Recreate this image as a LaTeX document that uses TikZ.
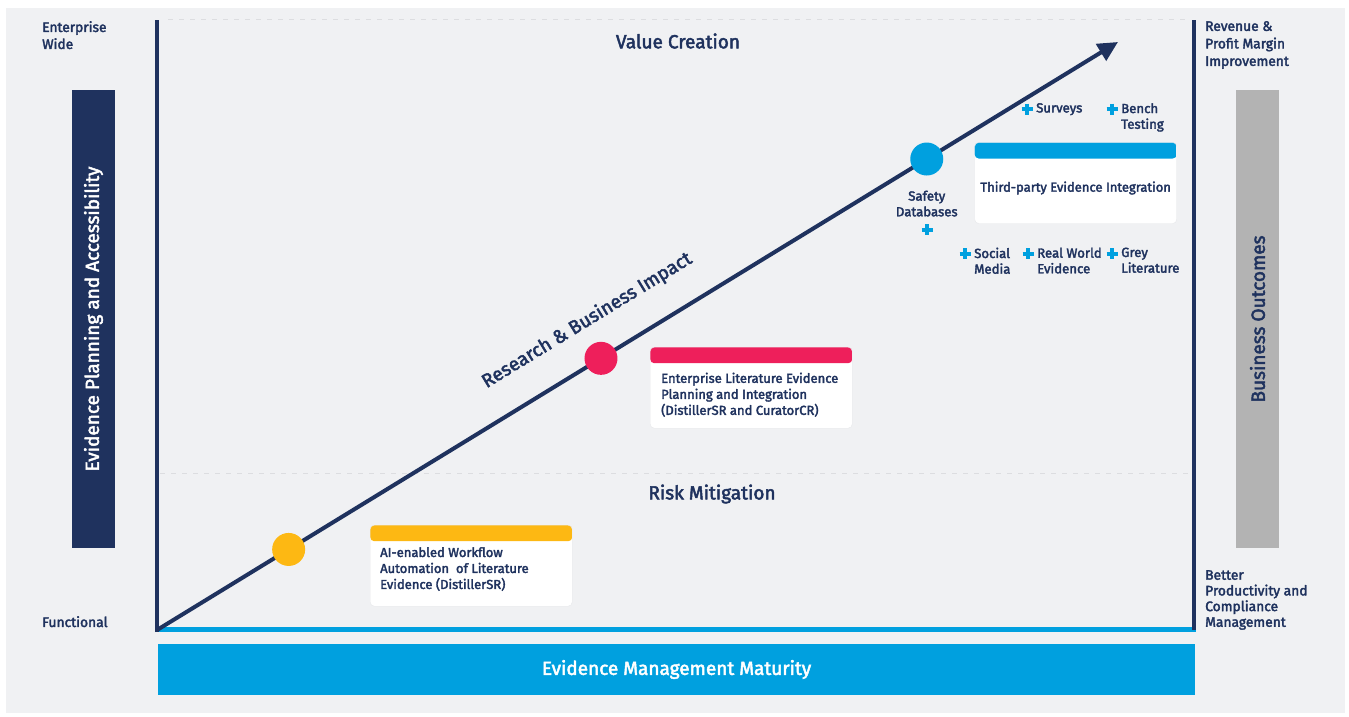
\documentclass[tikz,border=0pt]{standalone}
\usepackage{fontspec}
\setmainfont{Fira Sans}[FakeBold=2.5]
\usetikzlibrary{calc,arrows.meta,positioning}

\definecolor{evNavy}{HTML}{1F325E}
\definecolor{evCyan}{HTML}{00A0DF}
\definecolor{evYellow}{HTML}{FDB813}
\definecolor{evPink}{HTML}{EE1F5B}
\definecolor{evGray}{HTML}{B3B3B3}
\definecolor{evPanel}{HTML}{F0F1F3}
\definecolor{evDash}{HTML}{DCDDE0}
\definecolor{evEdge}{HTML}{E6E7EA}

\begin{document}
\begin{tikzpicture}
  [x=1pt, y=1pt, >={Triangle[length=20pt,width=19pt]}]

% important vars
\edef\plusArm{5.5}

% define styles
\tikzstyle{sidetext} = [inner sep=0, text=evNavy, align=left, anchor=north west, font=\fontsize{13.8}{17}\selectfont];
\tikzstyle{cardtext} = [inner sep=0, text=evNavy, align=left, font=\fontsize{13}{16}\selectfont];
\tikzstyle{card} = [draw=evEdge, fill=white, rounded corners=4pt, minimum width=202pt, minimum height=81pt, anchor=north west, inner sep=0];
\tikzstyle{dot} = [circle, minimum size=33pt, inner sep=0];
\tikzstyle{plusmark} = [draw=evCyan, line width=4pt];
\tikzstyle{guide} = [draw=evDash, line width=1pt, dash pattern=on 5pt off 6pt];
\tikzstyle{axis} = [draw=evNavy, line width=4pt];
\tikzstyle{zone} = [inner sep=0, text=evNavy, font=\fontsize{19}{22}\selectfont];
\tikzstyle{bar} = [inner sep=0, font=\fontsize{19}{20}\selectfont];

% define new commands
\newcommand{\evCard}[4]{
  \node[card, path picture={\fill[#2] (path picture bounding box.north west) rectangle ([yshift=-16pt] path picture bounding box.north east);}] (#1) at (#3,-#4) {};
}

\newcommand{\plusItem}[4]{
  \draw[plusmark] (#2-\plusArm,-#3) -- (#2+\plusArm,-#3) (#2,-#3+\plusArm) -- (#2,-#3-\plusArm);
  \node[sidetext, font=\fontsize{13.2}{15.7}\selectfont] (#1) at (#2+9,-#3+6) {#4};
}

% page and panel
\useasboundingbox (0,0) rectangle (1349,-717);
\fill[white] (0,0) rectangle (1349,-717);
\fill[evPanel] (6,-8) rectangle (1345,-713);

% axes
\coordinate (origin) at (157,-630);
\coordinate (ltop) at (157,-20);
\coordinate (rtop) at (1194,-20);
\coordinate (rbot) at (1194,-630);
\coordinate (tip) at (1118,-42);

\draw[guide] (168,-20) -- (1190,-20);
\draw[guide] (160,-473) -- (1190,-473);
\draw[evCyan, line width=4.5pt] ([yshift=0.5pt] origin) -- ([xshift=2pt, yshift=0.5pt] rbot);
\draw[axis] ([yshift=-2pt] origin) -- (ltop);
\draw[axis] (rbot) -- (rtop);

% side bars
\node[bar, fill=evNavy, text=white, rotate=90, minimum width=458pt, minimum height=43pt] (planBar) at (93.5,-319) {Evidence Planning and Accessibility};
\node[bar, fill=evGray, text=evNavy, rotate=90, minimum width=458pt, minimum height=43pt] (outBar) at (1257.5,-319) {Business Outcomes};
\node[bar, fill=evCyan, text=white, minimum width=1037pt, minimum height=51pt] (matBar) at (676.5,-669.5) {Evidence Management Maturity};

% side labels
\node[sidetext] (entWide) at (42,-21) {Enterprise\\Wide};
\node[sidetext] (funct) at (42,-616) {Functional};
\node[sidetext, font=\fontsize{13.8}{17.5}\selectfont] (revenue) at (1205,-21) {Revenue \&\\Profit Margin\\Improvement};
\node[sidetext, font=\fontsize{13.8}{15.7}\selectfont] (better) at (1205,-570) {Better\\Productivity and\\Compliance\\Management};

% zones
\node[zone] (valZone) at (678,-41) {Value Creation};
\node[zone] (riskZone) at (712,-494) {Risk Mitigation};

% impact line
\draw[axis, ->] (origin) -- node[zone, sloped, pos=0.469, above=28pt] (impact) {Research \& Business Impact}
  node[dot, fill=evYellow, pos=0.137] (aiDot) {}
  node[dot, fill=evPink, pos=0.462] (eliDot) {}
  node[dot, fill=evCyan, pos=0.801] (tpDot) {} (tip);

% cards
\evCard{aiCard}{evYellow}{370}{525}
\evCard{eliCard}{evPink}{650}{347}
\evCard{tpCard}{evCyan}{974.5}{142.3}

\node[cardtext, below right=22pt and 10pt of aiCard.north west] (aiText) {AI-enabled Workflow\\Automation\ \ of Literature\\Evidence (DistillerSR)};
\node[cardtext, below right=25.5pt and 11pt of eliCard.north west] (eliText) {Enterprise Literature Evidence\\Planning and Integration\\(DistillerSR and CuratorCR)};
\node[cardtext] (tpText) at ($(tpCard.center)+(0,-5)$) {Third-party Evidence Integration};

% evidence sources
\node[sidetext, anchor=north, align=center, font=\fontsize{13.2}{15.7}\selectfont, below=13pt of tpDot] (safety) {Safety\\Databases};
\draw[plusmark] (927-\plusArm,-229.5) -- (927+\plusArm,-229.5) (927,-229.5+\plusArm) -- (927,-229.5-\plusArm);

\foreach \nm/\px/\py/\txt in {surv/1027/109/Surveys, bench/1112/109/{Bench\\Testing}, social/965/253.5/{Social\\Media}, rwe/1028/253.5/{Real World\\Evidence}, grey/1112/253.5/{Grey\\Literature}}
  \plusItem{\nm}{\px}{\py}{\txt};

\end{tikzpicture}
\end{document}
